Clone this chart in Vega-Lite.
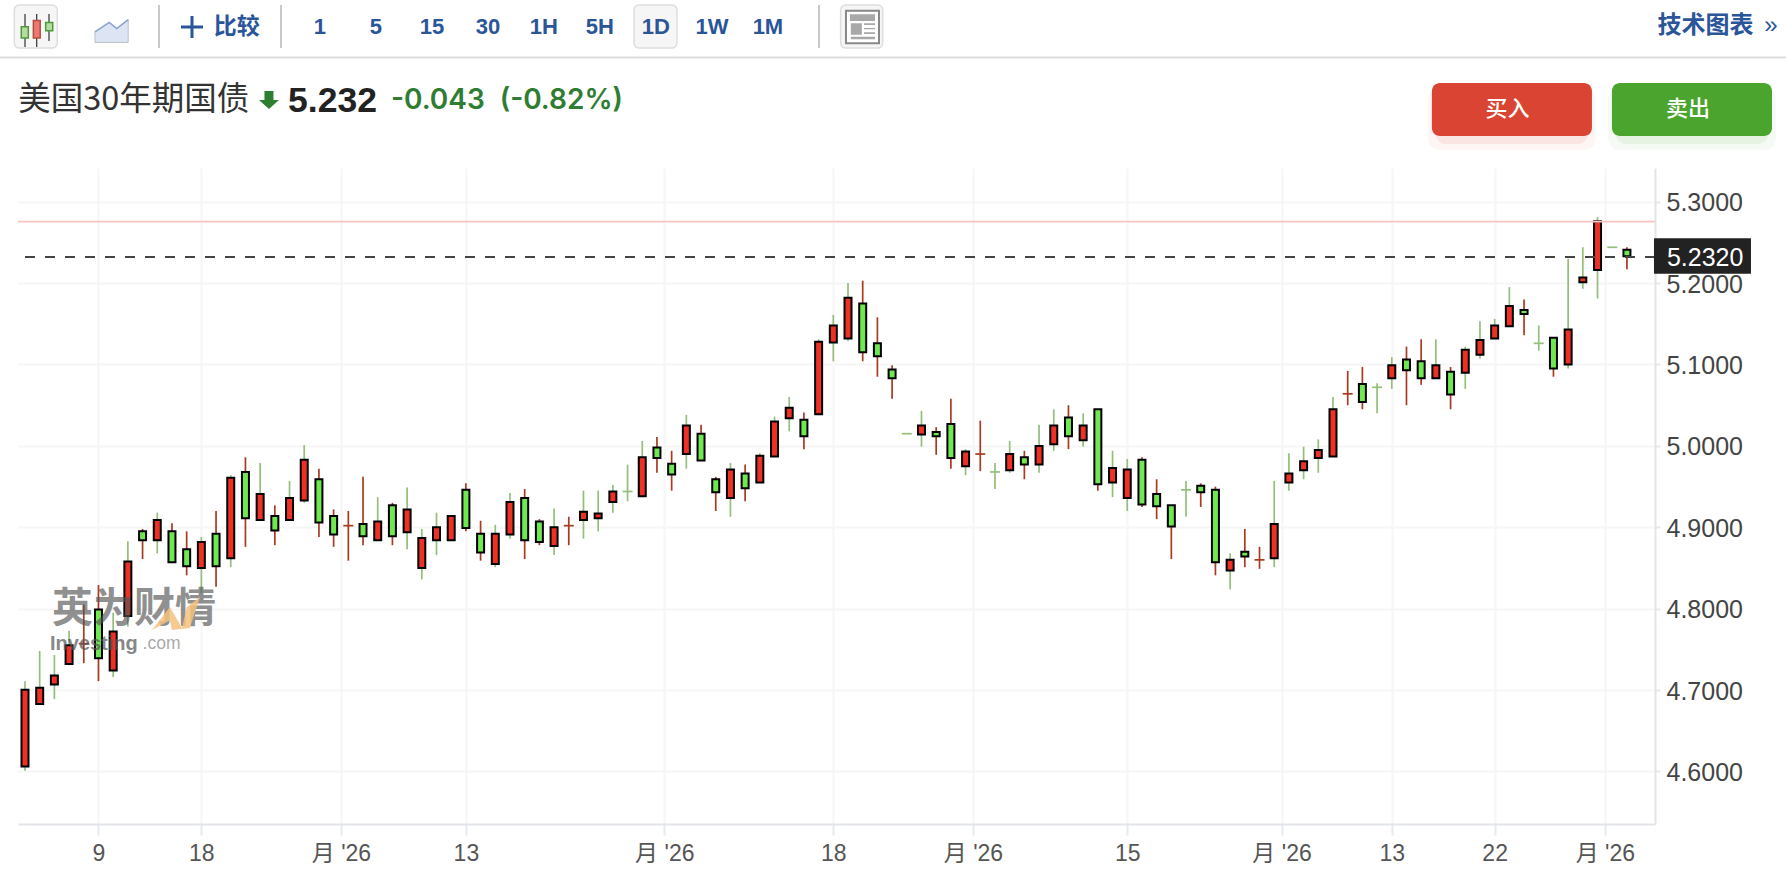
{"$schema":"https://vega.github.io/schema/vega-lite/v6.json","autosize":"none","padding":{"left":18,"top":168,"right":131,"bottom":62},"width":1637,"height":656,"background":"#ffffff","view":{"stroke":null},
"config":{"text":{"baseline":"middle"}},
"datasets":{"candles":[
{"i":0,"o":4.606,"h":4.711,"l":4.601,"c":4.7005,"body":"up","wick":"down"},
{"i":1,"o":4.683,"h":4.748,"l":4.683,"c":4.703,"body":"up","wick":"down"},
{"i":2,"o":4.707,"h":4.743,"l":4.689,"c":4.718,"body":"up","wick":"down"},
{"i":3,"o":4.732,"h":4.773,"l":4.732,"c":4.755,"body":"up","wick":"down"},
{"i":4,"o":4.757,"h":4.805,"l":4.733,"c":4.757,"body":"flat","wick":"up"},
{"i":5,"o":4.799,"h":4.829,"l":4.711,"c":4.739,"body":"down","wick":"up"},
{"i":6,"o":4.724,"h":4.795,"l":4.716,"c":4.772,"body":"up","wick":"down"},
{"i":7,"o":4.791,"h":4.883,"l":4.778,"c":4.858,"body":"up","wick":"down"},
{"i":8,"o":4.895,"h":4.898,"l":4.861,"c":4.884,"body":"down","wick":"up"},
{"i":9,"o":4.884,"h":4.918,"l":4.868,"c":4.909,"body":"up","wick":"down"},
{"i":10,"o":4.895,"h":4.905,"l":4.857,"c":4.857,"body":"down","wick":"up"},
{"i":11,"o":4.873,"h":4.895,"l":4.841,"c":4.852,"body":"down","wick":"up"},
{"i":12,"o":4.85,"h":4.888,"l":4.819,"c":4.882,"body":"up","wick":"down"},
{"i":13,"o":4.892,"h":4.92,"l":4.827,"c":4.852,"body":"down","wick":"up"},
{"i":14,"o":4.862,"h":4.964,"l":4.851,"c":4.961,"body":"up","wick":"down"},
{"i":15,"o":4.968,"h":4.986,"l":4.876,"c":4.911,"body":"down","wick":"up"},
{"i":16,"o":4.909,"h":4.979,"l":4.909,"c":4.941,"body":"up","wick":"down"},
{"i":17,"o":4.914,"h":4.927,"l":4.878,"c":4.896,"body":"down","wick":"up"},
{"i":18,"o":4.909,"h":4.957,"l":4.909,"c":4.936,"body":"up","wick":"down"},
{"i":19,"o":4.933,"h":5.001,"l":4.93,"c":4.983,"body":"up","wick":"down"},
{"i":20,"o":4.959,"h":4.972,"l":4.888,"c":4.906,"body":"down","wick":"up"},
{"i":21,"o":4.914,"h":4.922,"l":4.876,"c":4.891,"body":"down","wick":"up"},
{"i":22,"o":4.902,"h":4.92,"l":4.859,"c":4.902,"body":"flat","wick":"up"},
{"i":23,"o":4.904,"h":4.962,"l":4.878,"c":4.889,"body":"down","wick":"up"},
{"i":24,"o":4.884,"h":4.937,"l":4.884,"c":4.907,"body":"up","wick":"down"},
{"i":25,"o":4.927,"h":4.93,"l":4.878,"c":4.889,"body":"down","wick":"up"},
{"i":26,"o":4.894,"h":4.949,"l":4.873,"c":4.922,"body":"up","wick":"down"},
{"i":27,"o":4.85,"h":4.898,"l":4.836,"c":4.887,"body":"up","wick":"down"},
{"i":28,"o":4.884,"h":4.918,"l":4.866,"c":4.9,"body":"up","wick":"down"},
{"i":29,"o":4.884,"h":4.914,"l":4.884,"c":4.914,"body":"up","wick":"down"},
{"i":30,"o":4.946,"h":4.954,"l":4.895,"c":4.899,"body":"down","wick":"up"},
{"i":31,"o":4.892,"h":4.908,"l":4.859,"c":4.869,"body":"down","wick":"up"},
{"i":32,"o":4.855,"h":4.903,"l":4.851,"c":4.892,"body":"up","wick":"down"},
{"i":33,"o":4.891,"h":4.942,"l":4.886,"c":4.931,"body":"up","wick":"down"},
{"i":34,"o":4.936,"h":4.947,"l":4.861,"c":4.884,"body":"down","wick":"up"},
{"i":35,"o":4.907,"h":4.91,"l":4.878,"c":4.882,"body":"down","wick":"up"},
{"i":36,"o":4.877,"h":4.923,"l":4.866,"c":4.9,"body":"up","wick":"down"},
{"i":37,"o":4.902,"h":4.913,"l":4.878,"c":4.902,"body":"flat","wick":"up"},
{"i":38,"o":4.909,"h":4.945,"l":4.886,"c":4.919,"body":"up","wick":"down"},
{"i":39,"o":4.911,"h":4.945,"l":4.895,"c":4.917,"body":"up","wick":"down"},
{"i":40,"o":4.931,"h":4.952,"l":4.918,"c":4.944,"body":"up","wick":"down"},
{"i":41,"o":4.944,"h":4.977,"l":4.932,"c":4.944,"body":"flat","wick":"down"},
{"i":42,"o":4.938,"h":5.006,"l":4.938,"c":4.986,"body":"up","wick":"down"},
{"i":43,"o":4.998,"h":5.011,"l":4.967,"c":4.985,"body":"down","wick":"up"},
{"i":44,"o":4.978,"h":4.994,"l":4.945,"c":4.965,"body":"down","wick":"up"},
{"i":45,"o":4.99,"h":5.038,"l":4.972,"c":5.025,"body":"up","wick":"down"},
{"i":46,"o":5.015,"h":5.026,"l":4.982,"c":4.982,"body":"down","wick":"up"},
{"i":47,"o":4.959,"h":4.962,"l":4.92,"c":4.943,"body":"down","wick":"up"},
{"i":48,"o":4.936,"h":4.979,"l":4.913,"c":4.971,"body":"up","wick":"down"},
{"i":49,"o":4.966,"h":4.977,"l":4.932,"c":4.948,"body":"down","wick":"up"},
{"i":50,"o":4.955,"h":4.991,"l":4.955,"c":4.988,"body":"up","wick":"down"},
{"i":51,"o":4.987,"h":5.036,"l":4.987,"c":5.03,"body":"up","wick":"down"},
{"i":52,"o":5.034,"h":5.06,"l":5.018,"c":5.047,"body":"up","wick":"down"},
{"i":53,"o":5.032,"h":5.041,"l":4.996,"c":5.012,"body":"down","wick":"up"},
{"i":54,"o":5.039,"h":5.131,"l":5.039,"c":5.128,"body":"up","wick":"down"},
{"i":55,"o":5.127,"h":5.161,"l":5.104,"c":5.148,"body":"up","wick":"down"},
{"i":56,"o":5.132,"h":5.2,"l":5.129,"c":5.182,"body":"up","wick":"down"},
{"i":57,"o":5.175,"h":5.203,"l":5.104,"c":5.115,"body":"down","wick":"up"},
{"i":58,"o":5.126,"h":5.158,"l":5.085,"c":5.11,"body":"down","wick":"up"},
{"i":59,"o":5.094,"h":5.099,"l":5.058,"c":5.083,"body":"down","wick":"up"},
{"i":60,"o":5.015,"h":5.015,"l":5.015,"c":5.015,"body":"flat","wick":"down"},
{"i":61,"o":5.014,"h":5.043,"l":4.999,"c":5.025,"body":"up","wick":"down"},
{"i":62,"o":5.017,"h":5.023,"l":4.989,"c":5.012,"body":"down","wick":"up"},
{"i":63,"o":5.027,"h":5.058,"l":4.972,"c":4.985,"body":"down","wick":"up"},
{"i":64,"o":4.975,"h":4.996,"l":4.964,"c":4.993,"body":"up","wick":"down"},
{"i":65,"o":4.99,"h":5.031,"l":4.969,"c":4.99,"body":"flat","wick":"up"},
{"i":66,"o":4.968,"h":4.979,"l":4.947,"c":4.968,"body":"flat","wick":"down"},
{"i":67,"o":4.97,"h":5.006,"l":4.967,"c":4.99,"body":"up","wick":"down"},
{"i":68,"o":4.986,"h":4.994,"l":4.959,"c":4.977,"body":"down","wick":"up"},
{"i":69,"o":4.977,"h":5.026,"l":4.967,"c":5.0,"body":"up","wick":"down"},
{"i":70,"o":5.002,"h":5.045,"l":4.994,"c":5.025,"body":"up","wick":"down"},
{"i":71,"o":5.035,"h":5.05,"l":4.996,"c":5.012,"body":"down","wick":"up"},
{"i":72,"o":5.007,"h":5.04,"l":4.999,"c":5.025,"body":"up","wick":"down"},
{"i":73,"o":5.045,"h":5.045,"l":4.945,"c":4.953,"body":"down","wick":"up"},
{"i":74,"o":4.955,"h":4.994,"l":4.937,"c":4.973,"body":"up","wick":"down"},
{"i":75,"o":4.936,"h":4.984,"l":4.92,"c":4.971,"body":"up","wick":"down"},
{"i":76,"o":4.983,"h":4.986,"l":4.925,"c":4.928,"body":"down","wick":"up"},
{"i":77,"o":4.941,"h":4.959,"l":4.91,"c":4.926,"body":"down","wick":"up"},
{"i":78,"o":4.927,"h":4.927,"l":4.861,"c":4.901,"body":"down","wick":"up"},
{"i":79,"o":4.946,"h":4.957,"l":4.913,"c":4.946,"body":"flat","wick":"down"},
{"i":80,"o":4.951,"h":4.954,"l":4.925,"c":4.943,"body":"down","wick":"up"},
{"i":81,"o":4.946,"h":4.95,"l":4.841,"c":4.857,"body":"down","wick":"up"},
{"i":82,"o":4.847,"h":4.868,"l":4.824,"c":4.86,"body":"up","wick":"down"},
{"i":83,"o":4.87,"h":4.898,"l":4.851,"c":4.864,"body":"down","wick":"up"},
{"i":84,"o":4.86,"h":4.876,"l":4.849,"c":4.86,"body":"flat","wick":"up"},
{"i":85,"o":4.862,"h":4.957,"l":4.851,"c":4.904,"body":"up","wick":"down"},
{"i":86,"o":4.955,"h":4.991,"l":4.945,"c":4.966,"body":"up","wick":"down"},
{"i":87,"o":4.97,"h":4.999,"l":4.959,"c":4.981,"body":"up","wick":"down"},
{"i":88,"o":4.985,"h":5.008,"l":4.967,"c":4.995,"body":"up","wick":"down"},
{"i":89,"o":4.987,"h":5.06,"l":4.987,"c":5.045,"body":"up","wick":"down"},
{"i":90,"o":5.064,"h":5.092,"l":5.05,"c":5.064,"body":"flat","wick":"up"},
{"i":91,"o":5.076,"h":5.097,"l":5.045,"c":5.054,"body":"down","wick":"up"},
{"i":92,"o":5.072,"h":5.077,"l":5.04,"c":5.072,"body":"flat","wick":"down"},
{"i":93,"o":5.083,"h":5.109,"l":5.07,"c":5.099,"body":"up","wick":"down"},
{"i":94,"o":5.106,"h":5.122,"l":5.05,"c":5.093,"body":"down","wick":"up"},
{"i":95,"o":5.104,"h":5.131,"l":5.075,"c":5.083,"body":"down","wick":"up"},
{"i":96,"o":5.083,"h":5.131,"l":5.083,"c":5.099,"body":"up","wick":"down"},
{"i":97,"o":5.091,"h":5.097,"l":5.045,"c":5.063,"body":"down","wick":"up"},
{"i":98,"o":5.09,"h":5.122,"l":5.07,"c":5.118,"body":"up","wick":"down"},
{"i":99,"o":5.112,"h":5.153,"l":5.107,"c":5.13,"body":"up","wick":"down"},
{"i":100,"o":5.132,"h":5.156,"l":5.132,"c":5.148,"body":"up","wick":"down"},
{"i":101,"o":5.147,"h":5.195,"l":5.147,"c":5.172,"body":"up","wick":"down"},
{"i":102,"o":5.167,"h":5.18,"l":5.136,"c":5.162,"body":"down","wick":"up"},
{"i":103,"o":5.126,"h":5.148,"l":5.117,"c":5.126,"body":"flat","wick":"down"},
{"i":104,"o":5.133,"h":5.133,"l":5.085,"c":5.095,"body":"down","wick":"up"},
{"i":105,"o":5.1,"h":5.23,"l":5.095,"c":5.143,"body":"up","wick":"down"},
{"i":106,"o":5.201,"h":5.244,"l":5.193,"c":5.207,"body":"up","wick":"down"},
{"i":107,"o":5.216,"h":5.281,"l":5.181,"c":5.276,"body":"up","wick":"down"},
{"i":108,"o":5.244,"h":5.244,"l":5.244,"c":5.244,"body":"flat","wick":"down"},
{"i":109,"o":5.241,"h":5.244,"l":5.217,"c":5.233,"body":"down","wick":"up"}
]},
"data":{"name":"candles"},
"layer":[
{"mark":{"type":"rule","strokeWidth":1.7},"encoding":{
"x":{"field":"i","type":"quantitative","title":null,"scale":{"domain":[-0.476,110.91],"nice":false,"zero":false,"padding":0},
"axis":{"values":[5,12,21.5,30,43.5,55,64.5,75,85.5,93,100,107.5],"labelExpr":"indexof([21.5,43.5,64.5,85.5,107.5],datum.value)>=0 ? \"月 '26\" : datum.value==5?'9':datum.value==12?'18':datum.value==30?'13':datum.value==55?'18':datum.value==75?'15':datum.value==93?'13':'22'","grid":true,"gridColor":"#f6f6f7","gridWidth":2,"tickColor":"#e6e9ee","tickWidth":2,"tickSize":11,"domainColor":"#e1e5ea","domainWidth":2,"labelFont":"Liberation Sans, Noto Sans CJK SC","labelFontSize":23,"labelColor":"#555555","labelPadding":7,"labelOverlap":false,"labelBound":false,"labelFlush":false}},
"y":{"field":"h","type":"quantitative","title":null,"scale":{"domain":[4.5355,5.3414],"nice":false,"zero":false},
"axis":{"orient":"right","values":[4.6,4.7,4.8,4.9,5.0,5.1,5.2,5.3],"format":".4f","grid":true,"gridColor":"#f6f6f7","gridWidth":2,"tickColor":"#e6e9ee","tickWidth":2,"tickSize":5,"domainColor":"#e1e5ea","domainWidth":2,"labelFont":"Liberation Sans","labelFontSize":25,"labelColor":"#444444","labelPadding":6,"labelOffset":1,"labelOverlap":false,"labelBound":false}},
"y2":{"field":"l"},
"color":{"field":"wick","type":"nominal","legend":null,"scale":{"domain":["up","down"],"range":["#a83a20","#93bf7a"]}}}},
{"transform":[{"filter":"datum.body=='flat'"}],"mark":{"type":"tick","orient":"horizontal","size":10,"thickness":1.7,"opacity":1},"encoding":{"x":{"field":"i","type":"quantitative"},"y":{"field":"o","type":"quantitative"},"color":{"field":"wick","type":"nominal","legend":null}}},
{"transform":[{"filter":"datum.body!='flat'"}],"mark":{"type":"bar","orient":"vertical","size":7,"stroke":"#000000","strokeWidth":2},"encoding":{"x":{"field":"i","type":"quantitative"},"y":{"field":"o","type":"quantitative"},"y2":{"field":"c"},"fill":{"field":"body","type":"nominal","legend":null,"scale":{"domain":["up","down"],"range":["#ee3124","#70e851"]}}}},
{"data":{"values":[{}]},"mark":{"type":"rule","stroke":"#fbc4c0","strokeWidth":1.6},"encoding":{"y":{"datum":5.2755}}},
{"data":{"values":[{}]},"mark":{"type":"rule","stroke":"#444444","strokeWidth":2,"strokeDash":[10,10]},"encoding":{"y":{"datum":5.232}}},
{"data":{"values":[{}]},"mark":{"type":"rect","fill":"#222222"},"encoding":{"x":{"datum":110.84},"x2":{"datum":117.44},"y":{"datum":5.255},"y2":{"datum":5.2115}}},
{"data":{"values":[{}]},"mark":{"type":"text","align":"left","font":"Liberation Sans","fontSize":25,"fill":"#ffffff","text":"5.2320"},"encoding":{"x":{"datum":111.72},"y":{"datum":5.2308}}},

{"data":{"values":[{}]},"mark":{"type":"rule","stroke":"#dcdcdc","strokeWidth":2},"encoding":{"x":{"datum":-1.701},"x2":{"datum":119.82},"y":{"datum":5.4771}}},
{"data":{"values":[{}]},"mark":{"type":"rect","fill":"#f6f6f6","stroke":"#dedede","strokeWidth":1.5,"cornerRadius":5},"encoding":{"x":{"datum":-0.728},"x2":{"datum":2.198},"y":{"datum":5.5416},"y2":{"datum":5.4887}}},
{"data":{"values":[{}]},"mark":{"type":"rect","fill":"#f6f6f6","stroke":"#dedede","strokeWidth":1.5,"cornerRadius":5},"encoding":{"x":{"datum":41.44},"x2":{"datum":44.36},"y":{"datum":5.5416},"y2":{"datum":5.4887}}},
{"data":{"values":[{}]},"mark":{"type":"rect","fill":"#f6f6f6","stroke":"#dedede","strokeWidth":1.5,"cornerRadius":5},"encoding":{"x":{"datum":55.5},"x2":{"datum":58.36},"y":{"datum":5.5416},"y2":{"datum":5.4887}}},
{"data":{"values":[{}]},"mark":{"type":"point","filled":true,"opacity":1,"fill":"#444444","strokeWidth":0,"size":1936,"shape":"M-.52,-.75H-.46V.75H-.52ZM.01,-.75H.07V.75H.01ZM.57,-.75H.63V.48H.57Z"},"encoding":{"x":{"datum":0.735},"y":{"datum":5.5103}}},
{"data":{"values":[{}]},"mark":{"type":"point","filled":true,"opacity":1,"fill":"#b5dca0","stroke":"#4d9a3a","strokeWidth":1.5,"size":1936,"shape":"M-.66,-.17H-.34V.34H-.66ZM.45,-.37H.77V.01H.45Z"},"encoding":{"x":{"datum":0.735},"y":{"datum":5.5103}}},
{"data":{"values":[{}]},"mark":{"type":"point","filled":true,"opacity":1,"fill":"#ec7a72","stroke":"#b94a3f","strokeWidth":1.5,"size":1936,"shape":"M-.11,-.45H.2V.34H-.11Z"},"encoding":{"x":{"datum":0.735},"y":{"datum":5.5103}}},
{"data":{"values":[{}]},"mark":{"type":"point","filled":true,"opacity":1,"fill":"#dde4f3","stroke":"#b8bfce","strokeWidth":1,"size":1936,"shape":"M-.76,.52V.04L-.11,-.39L.23,-.11L.75,-.52V.52Z"},"encoding":{"x":{"datum":5.899},"y":{"datum":5.5097}}},
{"data":{"values":[{}]},"mark":{"type":"point","filled":false,"opacity":1,"stroke":"#8aa3cf","strokeWidth":1.5,"size":1936,"shape":"M-.76,.04L-.11,-.39L.23,-.11L.75,-.52"},"encoding":{"x":{"datum":5.899},"y":{"datum":5.5097}}},
{"data":{"values":[{}]},"mark":{"type":"rule","stroke":"#c8c8c8","strokeWidth":2},"encoding":{"x":{"datum":9.118},"y":{"datum":5.5416},"y2":{"datum":5.4887}}},
{"data":{"values":[{}]},"mark":{"type":"rule","stroke":"#c8c8c8","strokeWidth":2},"encoding":{"x":{"datum":17.418},"y":{"datum":5.5416},"y2":{"datum":5.4887}}},
{"data":{"values":[{}]},"mark":{"type":"rule","stroke":"#c8c8c8","strokeWidth":2},"encoding":{"x":{"datum":54.025},"y":{"datum":5.5416},"y2":{"datum":5.4887}}},
{"data":{"values":[{}]},"mark":{"type":"point","filled":false,"opacity":1,"stroke":"#2a5599","strokeWidth":3,"size":484,"shape":"M-1,0H1M0,-1V1"},"encoding":{"x":{"datum":11.363},"y":{"datum":5.5146}}},
{"data":{"values":[{}]},"mark":{"type":"text","font":"Noto Sans CJK SC","fontWeight":"bold","fontSize":23,"fill":"#2a5599","text":"比较"},"encoding":{"x":{"datum":14.404},"y":{"datum":5.5146}}},
{"data":{"values":[{}]},"mark":{"type":"text","font":"Liberation Sans","fontWeight":"bold","fontSize":22,"fill":"#2a5599","text":"1"},"encoding":{"x":{"datum":20.07},"y":{"datum":5.5146}}},
{"data":{"values":[{}]},"mark":{"type":"text","font":"Liberation Sans","fontWeight":"bold","fontSize":22,"fill":"#2a5599","text":"5"},"encoding":{"x":{"datum":23.88},"y":{"datum":5.5146}}},
{"data":{"values":[{}]},"mark":{"type":"text","font":"Liberation Sans","fontWeight":"bold","fontSize":22,"fill":"#2a5599","text":"15"},"encoding":{"x":{"datum":27.69},"y":{"datum":5.5146}}},
{"data":{"values":[{}]},"mark":{"type":"text","font":"Liberation Sans","fontWeight":"bold","fontSize":22,"fill":"#2a5599","text":"30"},"encoding":{"x":{"datum":31.5},"y":{"datum":5.5146}}},
{"data":{"values":[{}]},"mark":{"type":"text","font":"Liberation Sans","fontWeight":"bold","fontSize":22,"fill":"#2a5599","text":"1H"},"encoding":{"x":{"datum":35.31},"y":{"datum":5.5146}}},
{"data":{"values":[{}]},"mark":{"type":"text","font":"Liberation Sans","fontWeight":"bold","fontSize":22,"fill":"#2a5599","text":"5H"},"encoding":{"x":{"datum":39.12},"y":{"datum":5.5146}}},
{"data":{"values":[{}]},"mark":{"type":"text","font":"Liberation Sans","fontWeight":"bold","fontSize":22,"fill":"#2a5599","text":"1D"},"encoding":{"x":{"datum":42.93},"y":{"datum":5.5146}}},
{"data":{"values":[{}]},"mark":{"type":"text","font":"Liberation Sans","fontWeight":"bold","fontSize":22,"fill":"#2a5599","text":"1W"},"encoding":{"x":{"datum":46.74},"y":{"datum":5.5146}}},
{"data":{"values":[{}]},"mark":{"type":"text","font":"Liberation Sans","fontWeight":"bold","fontSize":22,"fill":"#2a5599","text":"1M"},"encoding":{"x":{"datum":50.55},"y":{"datum":5.5146}}},
{"data":{"values":[{}]},"mark":{"type":"point","filled":true,"opacity":1,"fill":"#ffffff","stroke":"#888888","strokeWidth":2,"size":1936,"shape":"M-.72,-.74H.78V.74H-.72Z"},"encoding":{"x":{"datum":56.94},"y":{"datum":5.5146}}},
{"data":{"values":[{}]},"mark":{"type":"point","filled":true,"opacity":1,"fill":"#a8a8a8","strokeWidth":0,"size":1936,"shape":"M-.54,-.58H.6V-.27H-.54ZM-.5,-.17H0V.35H-.5ZM.1,-.17H.6V-.09H.1ZM.1,.05H.6V.1H.1ZM.1,.24H.6V.32H.1ZM-.5,.44H.6V.56H-.5Z"},"encoding":{"x":{"datum":56.94},"y":{"datum":5.5146}}},
{"data":{"values":[{}]},"mark":{"type":"text","font":"Noto Sans CJK SC","fontWeight":"bold","fontSize":24,"fill":"#2a5599","text":"技术图表"},"encoding":{"x":{"datum":114.34},"y":{"datum":5.5158}}},
{"data":{"values":[{}]},"mark":{"type":"text","font":"Liberation Sans","fontSize":24,"fill":"#2a5599","text":"»"},"encoding":{"x":{"datum":118.8},"y":{"datum":5.5158}}},

{"data":{"values":[{}]},"mark":{"type":"text","align":"left","font":"Noto Sans CJK SC","fontSize":32.5,"fill":"#333333","text":"美国30年期国债"},"encoding":{"x":{"datum":-0.46},"y":{"datum":5.4249}}},
{"data":{"values":[{}]},"mark":{"type":"point","filled":true,"opacity":1,"fill":"#2e7d32","strokeWidth":0,"size":400,"shape":"M-.45,-.9H.45V0H1L0,.9L-1,0H-.45Z"},"encoding":{"x":{"datum":16.6},"y":{"datum":5.4249}}},
{"data":{"values":[{}]},"mark":{"type":"text","align":"left","font":"Liberation Sans","fontWeight":"bold","fontSize":35.5,"fill":"#222222","text":"5.232"},"encoding":{"x":{"datum":17.9},"y":{"datum":5.4237}}},
{"data":{"values":[{}]},"mark":{"type":"text","align":"left","font":"Inter","fontWeight":600,"fontSize":28,"fill":"#2e7d32","text":"-0.043"},"encoding":{"x":{"datum":24.9},"y":{"datum":5.4237}}},
{"data":{"values":[{}]},"mark":{"type":"text","align":"left","font":"Inter","fontWeight":600,"fontSize":28,"fill":"#2e7d32","text":"(-0.82%)"},"encoding":{"x":{"datum":32.3},"y":{"datum":5.4237}}},

{"data":{"values":[{}]},"mark":{"type":"rect","fill":"#d94532","opacity":0.05,"cornerRadius":12},"encoding":{"x":{"datum":95.46},"x2":{"datum":106.89},"y":{"datum":5.4397},"y2":{"datum":5.3635}}},
{"data":{"values":[{}]},"mark":{"type":"rect","fill":"#d94532","opacity":0.09,"cornerRadius":10},"encoding":{"x":{"datum":96.0},"x2":{"datum":106.35},"y":{"datum":5.4372},"y2":{"datum":5.3709}}},
{"data":{"values":[{}]},"mark":{"type":"rect","fill":"#4ba42e","opacity":0.05,"cornerRadius":12},"encoding":{"x":{"datum":107.71},"x2":{"datum":119.14},"y":{"datum":5.4397},"y2":{"datum":5.3635}}},
{"data":{"values":[{}]},"mark":{"type":"rect","fill":"#4ba42e","opacity":0.09,"cornerRadius":10},"encoding":{"x":{"datum":108.25},"x2":{"datum":118.6},"y":{"datum":5.4372},"y2":{"datum":5.3709}}},
{"data":{"values":[{}]},"mark":{"type":"rect","fill":"#d94532","cornerRadius":8},"encoding":{"x":{"datum":95.73},"x2":{"datum":106.62},"y":{"datum":5.4458},"y2":{"datum":5.3807}}},
{"data":{"values":[{}]},"mark":{"type":"rect","fill":"#4ba42e","cornerRadius":8},"encoding":{"x":{"datum":107.98},"x2":{"datum":118.87},"y":{"datum":5.4458},"y2":{"datum":5.3807}}},
{"data":{"values":[{}]},"mark":{"type":"text","font":"Noto Sans CJK SC","fontWeight":500,"fontSize":22,"fill":"#ffffff","text":"买入"},"encoding":{"x":{"datum":100.88},"y":{"datum":5.4135}}},
{"data":{"values":[{}]},"mark":{"type":"text","font":"Noto Sans CJK SC","fontWeight":500,"fontSize":22,"fill":"#ffffff","text":"卖出"},"encoding":{"x":{"datum":113.15},"y":{"datum":5.4135}}},

{"data":{"values":[{}]},"mark":{"type":"text","font":"Noto Sans CJK SC","fontWeight":"bold","fontSize":41,"fill":"#555555","opacity":0.65,"text":"英为财情"},"encoding":{"x":{"datum":7.42},"y":{"datum":4.798}}},
{"data":{"values":[{}]},"mark":{"type":"point","filled":true,"opacity":0.85,"fill":"#f5c27e","strokeWidth":0,"size":2304,"shape":"M-1,.71L-.25,-.25L.25,.62L.46,-.25L1,-.67L.58,.62L-.17,.71L-.25,.3Z"},"encoding":{"x":{"datum":10.27},"y":{"datum":4.7947}}},
{"data":{"values":[{}]},"mark":{"type":"text","align":"left","font":"Liberation Sans","fontWeight":"bold","fontSize":20,"fill":"#555555","opacity":0.7,"text":"Investing"},"encoding":{"x":{"datum":1.7},"y":{"datum":4.7565}}},
{"data":{"values":[{}]},"mark":{"type":"text","align":"left","font":"Liberation Sans","fontSize":17.5,"fill":"#555555","opacity":0.5,"text":".com"},"encoding":{"x":{"datum":8.0},"y":{"datum":4.7565}}}
]}
